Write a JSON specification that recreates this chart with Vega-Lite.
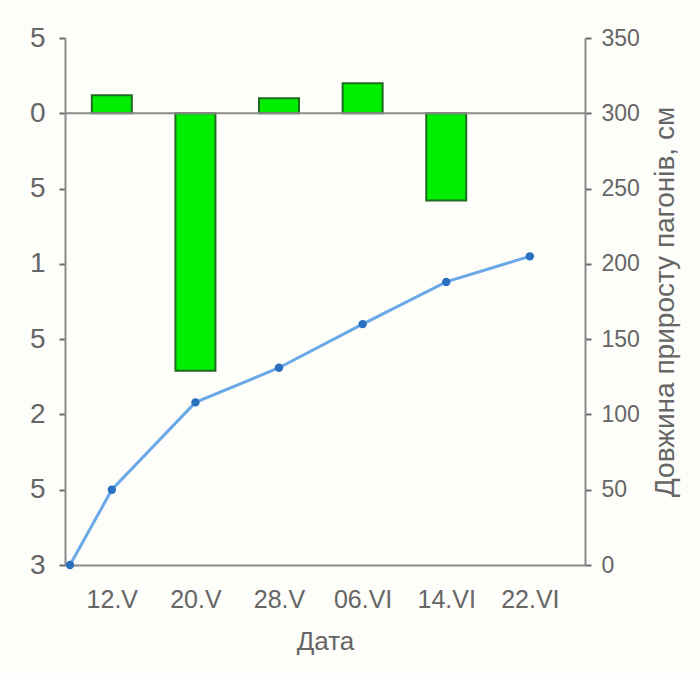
{
  "$schema": "https://vega.github.io/schema/vega-lite/v6.json",
  "autosize": {"type": "none"},
  "padding": {"left": 65, "top": 38, "right": 115, "bottom": 109},
  "width": 520,
  "height": 527,
  "background": "#fdfdf9",
  "config": {
    "view": {"stroke": null},
    "font": "Liberation Sans",
    "axis": {"grid": false, "domainColor": "#8a8a8a", "domainWidth": 2, "tickColor": "#6a6a6a", "tickWidth": 2, "labelColor": "#666666", "titleColor": "#666666", "labelFont": "Liberation Sans", "titleFont": "Liberation Sans", "titleFontWeight": "normal"}
  },
  "datasets": {
    "growth": [
      {"pos": 0.5, "date": "", "len": 0},
      {"pos": 1, "date": "12.V", "len": 50},
      {"pos": 2, "date": "20.V", "len": 108},
      {"pos": 3, "date": "28.V", "len": 131},
      {"pos": 4, "date": "06.VI", "len": 160},
      {"pos": 5, "date": "14.VI", "len": 188},
      {"pos": 6, "date": "22.VI", "len": 205}
    ],
    "delta": [
      {"pos": 1, "date": "12.V", "d": 0.12},
      {"pos": 2, "date": "20.V", "d": -1.71},
      {"pos": 3, "date": "28.V", "d": 0.1},
      {"pos": 4, "date": "06.VI", "d": 0.2},
      {"pos": 5, "date": "14.VI", "d": -0.58}
    ]
  },
  "layer": [
    {
      "layer": [
        {
          "data": {"name": "delta"},
          "mark": {"type": "bar", "width": 40, "color": "#00ee00", "stroke": "#1f6b1f", "strokeWidth": 2},
          "encoding": {
            "x": {"field": "pos", "type": "quantitative", "scale": {"domain": [0.5, 6.6], "nice": false, "zero": false},
              "axis": {"title": "Дата", "values": [1, 2, 3, 4, 5, 6], "labelExpr": "['','12.V','20.V','28.V','06.VI','14.VI','22.VI'][datum.value]", "ticks": false, "labelFontSize": 25, "labelPadding": 22, "titleFontSize": 26, "titlePadding": 16, "labelFlush": false}},
            "y": {"field": "d", "type": "quantitative", "scale": {"domain": [-3, 0.5], "nice": false, "zero": false},
              "axis": {"title": null, "orient": "left", "values": [-3, -2.5, -2, -1.5, -1, -0.5, 0, 0.5], "labelExpr": "slice(format(datum.value, '.1f'), -1) == '0' ? slice(replace(format(abs(datum.value), '.1f'), '.0', ''), -1) : '5'", "labelFontSize": 28, "labelPadding": 14, "tickSize": 6}},
            "y2": {"datum": 0}
          }
        },
        {
          "data": {"values": [{}]},
          "mark": {"type": "rule", "color": "#8a8a8a", "strokeWidth": 2},
          "encoding": {"y": {"datum": 0}}
        }
      ]
    },
    {
      "data": {"name": "growth"},
      "mark": {"type": "line", "color": "#6aa8e8", "strokeWidth": 3, "point": {"filled": true, "color": "#2a6fc0", "size": 70}},
      "encoding": {
        "x": {"field": "pos", "type": "quantitative"},
        "y": {"field": "len", "type": "quantitative", "scale": {"domain": [0, 350], "nice": false},
          "axis": {"orient": "right", "title": "Довжина приросту пагонів, см", "values": [0, 50, 100, 150, 200, 250, 300, 350], "labelFontSize": 23, "labelPadding": 10, "tickSize": 6, "titleFontSize": 28, "titleAngle": -90, "titleBaseline": "top", "titlePadding": 12}}
      }
    }
  ],
  "resolve": {"scale": {"y": "independent"}}
}
